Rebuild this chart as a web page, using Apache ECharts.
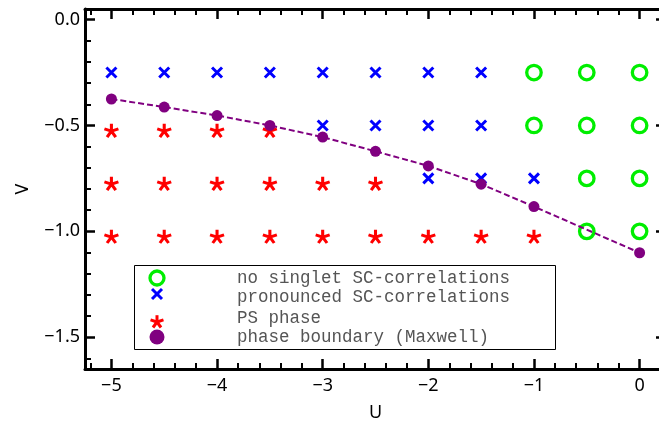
<!DOCTYPE html>
<html>
<head>
<meta charset="utf-8">
<script src="https://cdn.jsdelivr.net/npm/echarts@6/dist/echarts.min.js"></script>
<style>
html,body{margin:0;padding:0;background:#fff;}
#c{width:659px;height:423px;}
</style>
</head>
<body>
<div id="c"></div>
<script>
// ---- data ----
const xTickLabels = [-5, -4, -3, -2, -1, 0];
const yTickLabels = [0.0, -0.5, -1.0, -1.5];

// no singlet SC-correlations (U, V)
const noSC = [[-1,-0.25],[-0.5,-0.25],[0,-0.25],
              [-1,-0.5],[-0.5,-0.5],[0,-0.5],
              [-0.5,-0.75],[0,-0.75],
              [-0.5,-1.0],[0,-1.0]];
// pronounced SC-correlations (U, V)
const pronouncedSC = [[-5,-0.25],[-4.5,-0.25],[-4,-0.25],[-3.5,-0.25],[-3,-0.25],[-2.5,-0.25],[-2,-0.25],[-1.5,-0.25],
                      [-3,-0.5],[-2.5,-0.5],[-2,-0.5],[-1.5,-0.5],
                      [-2,-0.75],[-1.5,-0.75],[-1,-0.75]];
// PS phase (U, V)
const psPhase = [[-5,-0.5],[-4.5,-0.5],[-4,-0.5],[-3.5,-0.5],
                 [-5,-0.75],[-4.5,-0.75],[-4,-0.75],[-3.5,-0.75],[-3,-0.75],[-2.5,-0.75],
                 [-5,-1.0],[-4.5,-1.0],[-4,-1.0],[-3.5,-1.0],[-3,-1.0],[-2.5,-1.0],[-2,-1.0],[-1.5,-1.0],[-1,-1.0]];
// phase boundary (Maxwell)
const boundaryU = [-5, -4.5, -4, -3.5, -3, -2.5, -2, -1.5, -1, 0];
const boundaryV = [-0.375, -0.413, -0.453, -0.500, -0.555, -0.622, -0.691, -0.777, -0.883, -1.101];

const legendNames = ['no singlet SC-correlations', 'pronounced SC-correlations', 'PS phase', 'phase boundary (Maxwell)'];

// ---- styling helpers ----
const X_MIN = -5.25, X_MAX = 0.25, Y_MIN = -1.65, Y_MAX = 0.05;
const xMinor = [], yMinor = [];
for (let k = -26; k <= 1; k++) { if (k % 5 !== 0) xMinor.push(k * 0.2); }
for (let k = -16; k <= 0; k++) { if (k % 5 !== 0) yMinor.push(k * 0.1); }

const FONT = 'Noto Sans';
const minus = v => (v < 0 ? '\u2212' : '') + Math.abs(v);
const STAR = 'M0,0L0,-1M0,0L0.951,-0.309M0,0L-0.951,-0.309M0,0L0.588,0.809M0,0L-0.588,0.809';
const CROSS = 'M0,0L1,1M1,0L0,1';
const STAR_ARMS = [[0,-1],[0.951,-0.309],[-0.951,-0.309],[0.588,0.809],[-0.588,0.809]];

function frameAxis(pos, min, max, ticks, len, width, showLine, extra) {
  return Object.assign({
    type: 'value', position: pos, min: min, max: max,
    axisLine: { show: showLine, onZero: false, lineStyle: { color: '#000', width: 3 } },
    axisTick: { show: true, inside: true, length: len, customValues: ticks, lineStyle: { color: '#000', width: width } },
    axisLabel: { show: false },
    splitLine: { show: false }
  }, extra || {});
}

// legend glyph pieces (decoration only)
function legendCross(cx, cy, h, color) {
  return [
    { type: 'line', z: 101, shape: { x1: cx - h, y1: cy - h, x2: cx + h, y2: cy + h }, style: { stroke: color, lineWidth: 3 } },
    { type: 'line', z: 101, shape: { x1: cx + h, y1: cy - h, x2: cx - h, y2: cy + h }, style: { stroke: color, lineWidth: 3 } }
  ];
}
function legendStar(cx, cy, r, color) {
  return STAR_ARMS.map(a => ({ type: 'line', z: 101, shape: { x1: cx, y1: cy, x2: cx + a[0] * r, y2: cy + a[1] * r }, style: { stroke: color, lineWidth: 3 } }));
}
function legendText(y, txt) {
  return { type: 'text', z: 101, x: 237, y: y, style: { text: txt, fontFamily: 'Liberation Mono', fontSize: 17.5, fill: '#555', verticalAlign: 'middle' } };
}

const chart = echarts.init(document.getElementById('c'), null, { renderer: 'canvas' });
chart.setOption({
  animation: false,
  backgroundColor: '#fff',
  grid: { left: 85, top: 9, width: 581, height: 360, containLabel: false, outerBoundsMode: 'none' },
  xAxis: [
    frameAxis('bottom', X_MIN, X_MAX, xTickLabels, 10, 2.5, true, {
      axisLabel: { show: true, customValues: xTickLabels, formatter: v => minus(Math.round(v)), fontFamily: FONT, fontSize: 18, color: '#000', margin: 8 },
      name: 'U', nameLocation: 'middle', nameGap: 35,
      nameTextStyle: { fontFamily: FONT, fontSize: 18, color: '#000' }
    }),
    frameAxis('bottom', X_MIN, X_MAX, xMinor, 6, 2, false),
    frameAxis('top', X_MIN, X_MAX, xTickLabels, 10, 2.5, true),
    frameAxis('top', X_MIN, X_MAX, xMinor, 6, 2, false)
  ],
  yAxis: [
    frameAxis('left', Y_MIN, Y_MAX, yTickLabels, 10, 2.5, true, {
      axisLabel: { show: true, customValues: yTickLabels, formatter: v => (v < 0 ? '\u2212' : '') + Math.abs(v).toFixed(1), fontFamily: FONT, fontSize: 18, color: '#000', margin: 5 },
      name: 'V', nameLocation: 'middle', nameGap: 53,
      nameTextStyle: { fontFamily: FONT, fontSize: 18, color: '#000' }
    }),
    frameAxis('left', Y_MIN, Y_MAX, yMinor, 6, 2, false),
    frameAxis('right', Y_MIN, Y_MAX, yTickLabels, 10, 2.5, true)
  ],
  series: [
    {
      name: legendNames[0], type: 'scatter', data: noSC,
      symbol: 'circle', symbolSize: 14.5,
      itemStyle: { color: 'rgba(0,0,0,0)', borderColor: '#00ee00', borderWidth: 3.3, opacity: 1 },
      z: 2
    },
    {
      name: legendNames[1], type: 'scatter', data: pronouncedSC,
      symbol: 'path://' + CROSS, symbolSize: 10,
      itemStyle: { color: 'rgba(0,0,0,0)', borderColor: '#0000ff', borderWidth: 3, opacity: 1 },
      z: 2
    },
    {
      name: legendNames[2], type: 'scatter', data: psPhase,
      symbol: 'path://' + STAR, symbolSize: [14, 13.3], symbolOffset: [0, 5],
      itemStyle: { color: 'rgba(0,0,0,0)', borderColor: '#ff0000', borderWidth: 3, opacity: 1 },
      z: 2
    },
    {
      name: legendNames[3], type: 'line', data: boundaryU.map((u, i) => [u, boundaryV[i]]),
      symbol: 'circle', symbolSize: 11, showSymbol: true,
      itemStyle: { color: '#800080', opacity: 1 },
      lineStyle: { color: '#800080', width: 2, type: [6, 3] },
      z: 3
    }
  ],
  graphic: [
    { type: 'rect', z: 100, shape: { x: 134.5, y: 265.5, width: 421, height: 84 }, style: { fill: '#fff', stroke: '#000', lineWidth: 1 } },
    { type: 'circle', z: 101, shape: { cx: 157, cy: 278, r: 7 }, style: { fill: 'none', stroke: '#00ee00', lineWidth: 3.3 } }
  ].concat(
    legendCross(157, 294, 5, '#0000ff'),
    legendStar(157, 322, 6.8, '#ff0000'),
    [{ type: 'circle', z: 101, shape: { cx: 157, cy: 337, r: 7.5 }, style: { fill: '#800080' } }],
    [legendText(278, legendNames[0]), legendText(297, legendNames[1]), legendText(318, legendNames[2]), legendText(337, legendNames[3])]
  )
});
</script>
</body>
</html>
